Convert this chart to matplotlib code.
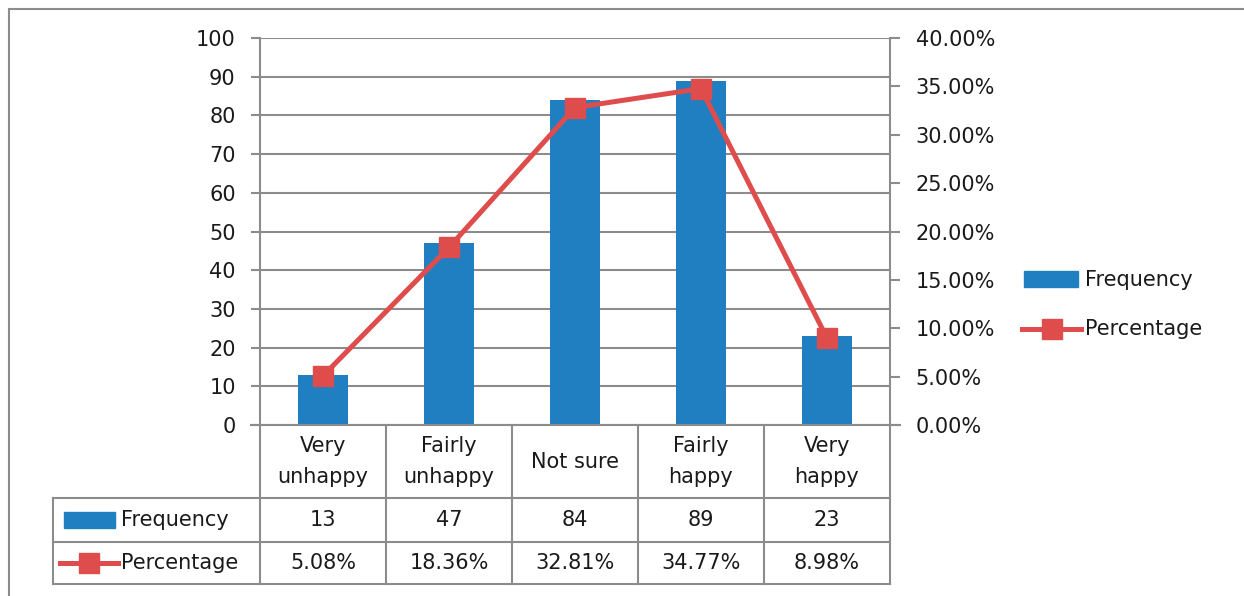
import matplotlib
matplotlib.use("Agg")
import matplotlib.pyplot as plt
from matplotlib.lines import Line2D
from matplotlib.patches import Rectangle
from matplotlib.ticker import FuncFormatter, MultipleLocator

categories = ["Very\nunhappy", "Fairly\nunhappy", "Not sure", "Fairly\nhappy", "Very\nhappy"]
frequency = [13, 47, 84, 89, 23]
percentage = [5.08, 18.36, 32.81, 34.77, 8.98]
freq_labels = ["13", "47", "84", "89", "23"]
perc_labels = ["5.08%", "18.36%", "32.81%", "34.77%", "8.98%"]

BLUE = "#1F7FC1"
RED = "#DF4C4C"
GRID = "#8C8C8C"
TXT = "#1a1a1a"
FS = 15

plt.rcParams["font.family"] = ["DejaVu Sans"]

W, H = 1244, 596
fig = plt.figure(figsize=(W / 100, H / 100), dpi=100)

def fx(px):
    return px / W

def fy(py):
    return 1 - py / H

# outer border (left and top only visible)
fig.add_artist(Line2D([fx(9), fx(9)], [fy(9), 0], color=GRID, lw=1.5, transform=fig.transFigure))
fig.add_artist(Line2D([fx(9), 1], [fy(9), fy(9)], color=GRID, lw=1.5, transform=fig.transFigure))

# main plot area
L, R, T, B = 260, 890, 38, 425
ax = fig.add_axes([fx(L), fy(B), fx(R - L), (B - T) / H])
x = list(range(len(categories)))
ax.bar(x, frequency, width=0.4, color=BLUE, zorder=2)
ax.set_xlim(-0.5, len(categories) - 0.5)
ax.set_ylim(0, 100)
ax.yaxis.set_major_locator(MultipleLocator(10))
ax.grid(axis="y", color=GRID, lw=1.5, zorder=0)
ax.set_axisbelow(True)
ax.set_xticks([])
for s in ["top", "right", "bottom"]:
    ax.spines[s].set_visible(False)
ax.spines["left"].set_color(GRID)
ax.spines["left"].set_linewidth(1.5)
ax.tick_params(axis="y", direction="out", length=6.5, width=1.5, color=GRID,
               labelsize=FS, labelcolor=TXT, pad=11)

ax2 = ax.twinx()
ax2.plot(x, percentage, color=RED, lw=3.6, marker="s", markersize=14, zorder=3)
ax2.set_ylim(0, 40)
ax2.yaxis.set_major_locator(MultipleLocator(5))
ax2.yaxis.set_major_formatter(FuncFormatter(lambda v, p: f"{v:.2f}%"))
for s in ["top", "left", "bottom"]:
    ax2.spines[s].set_visible(False)
ax2.spines["right"].set_color(GRID)
ax2.spines["right"].set_linewidth(1.5)
ax2.tick_params(axis="y", direction="out", length=7.5, width=1.5, color=GRID,
                labelsize=FS, labelcolor=TXT, pad=11)

# data table
TL, TT, TB = 53, 425, 584
rows = [425, 498, 542, 584]
colw = (R - L) / len(categories)
tax = fig.add_axes([fx(TL), fy(TB), fx(R - TL), (TB - TT) / H])
x0 = -0.5 - (L - TL) / colw
xr = len(categories) - 0.5
tax.set_xlim(x0, xr)
tax.set_ylim(TB, TT)
tax.axis("off")
lk = dict(color=GRID, lw=1.5, clip_on=False)
# category axis baseline (from left tick to right tick)
tax.plot([-0.5 - 9 / colw, xr + 10 / colw], [rows[0]] * 2, **lk)
# horizontal lines of the data rows
for r in rows[1:]:
    tax.plot([x0, xr], [r, r], **lk)
# vertical lines
tax.plot([x0, x0], [rows[1], rows[3]], **lk)
for i in range(len(categories) + 1):
    tax.plot([i - 0.5] * 2, [rows[0], rows[3]], **lk)
# category row and values
for i, c in enumerate(categories):
    tax.text(i, (rows[0] + rows[1]) / 2, c, ha="center", va="center", fontsize=FS,
             color=TXT, linespacing=1.7)
    tax.text(i, (rows[1] + rows[2]) / 2, freq_labels[i], ha="center", va="center",
             fontsize=FS, color=TXT)
    tax.text(i, (rows[2] + rows[3]) / 2, perc_labels[i], ha="center", va="center",
             fontsize=FS, color=TXT)
# legend keys in table
yf = (rows[1] + rows[2]) / 2
tax.add_patch(Rectangle((x0 + 11 / colw, yf - 8), 51 / colw, 16,
                        color=BLUE, clip_on=False))
tax.text(x0 + 68 / colw, yf, "Frequency", ha="left", va="center",
         fontsize=FS, color=TXT)
ym = (rows[2] + rows[3]) / 2
tax.plot([x0 + 7 / colw, x0 + 65 / colw], [ym, ym], color=RED, lw=3.6, clip_on=False)
tax.plot([x0 + 36 / colw], [ym], color=RED, marker="s", markersize=14, clip_on=False)
tax.text(x0 + 68 / colw, ym, "Percentage", ha="left", va="center", fontsize=FS, color=TXT)

# legend on the right
lax = fig.add_axes([0, 0, 1, 1])
lax.set_xlim(0, W)
lax.set_ylim(H, 0)
lax.axis("off")
lax.add_patch(Rectangle((1024, 271), 54, 16, color=BLUE))
lax.text(1085, 280, "Frequency", ha="left", va="center", fontsize=FS, color=TXT)
lax.plot([1022, 1081], [329, 329], color=RED, lw=3.6)
lax.plot([1052], [329], color=RED, marker="s", markersize=14)
lax.text(1085, 329, "Percentage", ha="left", va="center", fontsize=FS, color=TXT)

fig.savefig("out.png", dpi=100)
